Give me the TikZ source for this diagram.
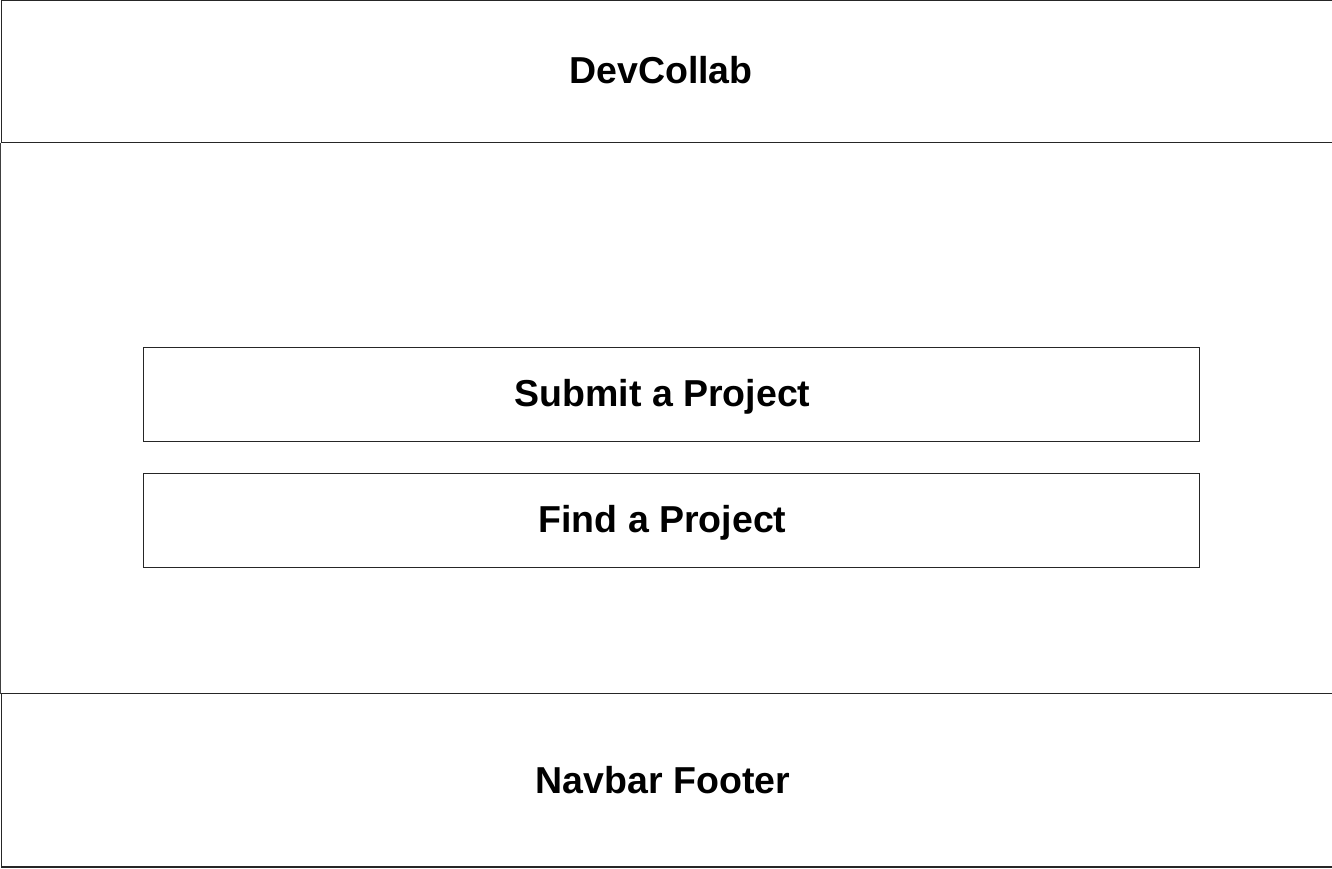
\documentclass[tikz,border=0pt]{standalone}
\usepackage{fontspec}
\setmainfont{Liberation Sans}
\begin{document}
\begin{tikzpicture}[x=1pt,y=-1pt,
  frame/.style={draw=black!85,line width=1.8pt},
  btn/.style={draw=black!85,line width=1.6pt},
  lbl/.style={font=\fontsize{37.5}{44}\selectfont\bfseries,inner sep=0pt,anchor=base}]
\useasboundingbox (0,0) rectangle (1332,868);
\fill[white] (0,0) rectangle (1332,868);
\draw[frame] (1.5,0.5) rectangle (1345,142.5);
\draw[frame,draw=black!75] (0.5,142.5) -- (0.5,693.5);
\draw[frame] (1.5,693.5) rectangle (1345,867);
\draw[btn] (143.5,347.5) rectangle (1199.5,441.5) coordinate (s2);
\draw[btn] (143.5,473.5) rectangle (1199.5,567.5) coordinate (f2);
\node[lbl] (title) at (661,83) {DevCollab};
\node[lbl] (submit) at (662.5,406) {Submit a Project};
\node[lbl] (find) at (662.5,532) {Find a Project};
\node[lbl] (footer) at (663,793) {Navbar Footer};
\end{tikzpicture}
\end{document}
